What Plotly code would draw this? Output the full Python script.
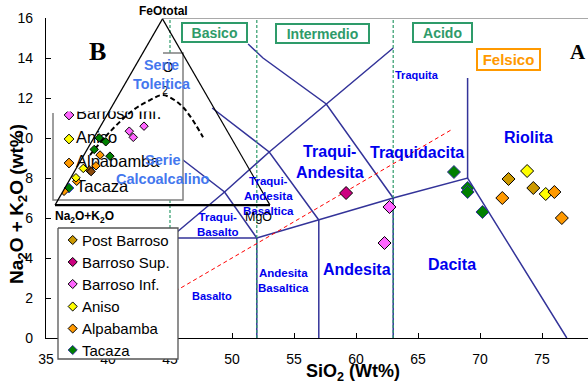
import plotly.graph_objects as go

# ---------------- TAS data: SiO2 (wt%) vs Na2O+K2O (wt%) ----------------
post_barroso_sio2 = [72.3, 74.3]
post_barroso_alk = [7.95, 7.5]
barroso_sup_sio2 = [59.2]
barroso_sup_alk = [7.25]
barroso_inf_sio2 = [62.7, 62.3]
barroso_inf_alk = [6.55, 4.75]
aniso_sio2 = [73.8, 75.3]
aniso_alk = [8.35, 7.2]
alpabamba_sio2 = [71.8, 76.0, 76.6]
alpabamba_alk = [7.0, 7.3, 6.0]
tacaza_sio2 = [67.9, 69.0, 69.0, 70.2]
tacaza_alk = [8.3, 7.5, 7.3, 6.3]

# ---------------- AFM data (FeOtotal, Na2O+K2O, MgO; sum = 100) ----------------
afm_barroso_inf_fe = [39.7, 36.4, 42.4]
afm_barroso_inf_alk = [45.6, 45.4, 37.4]
afm_barroso_inf_mg = [14.7, 18.2, 20.2]
afm_tacaza_fe = [36.1, 34.0, 29.9, 26.3]
afm_tacaza_alk = [61.4, 59.4, 66.8, 61.3]
afm_tacaza_mg = [2.5, 6.6, 3.3, 12.4]
afm_alpabamba_fe = [26.9, 21.1, 12.8, 7.4]
afm_alpabamba_alk = [65.6, 70.4, 83.5, 92.1]
afm_alpabamba_mg = [7.5, 8.5, 3.7, 0.5]
afm_post_barroso_fe = [18.8, 18.0]
afm_post_barroso_alk = [74.6, 74.2]
afm_post_barroso_mg = [6.6, 7.8]
afm_aniso_fe = [19.7, 14.7]
afm_aniso_alk = [77.0, 82.9]
afm_aniso_mg = [3.3, 2.4]

# tholeiitic / calc-alkaline divide
afm_divide_fe = [26.9, 39.4, 51.0, 56.4, 59.1, 54.2, 47.8, 36.5]
afm_divide_alk = [70.3, 54.7, 38.2, 27.6, 20.2, 14.8, 13.3, 12.9]
afm_divide_mg = [2.8, 5.9, 10.8, 16.0, 20.7, 31.0, 38.9, 50.6]

# ---------------- TAS field boundaries ----------------
tas_lines = [
    ([45, 45, 52, 57, 63, 69, 77], [0, 5, 5, 5.9, 7, 8, 0]),
    ([52, 52], [0, 5]),
    ([57, 57], [0, 5.9]),
    ([63, 63], [0, 7]),
    ([69, 69], [8, 13]),
    ([45, 49.4, 53, 57.6, 63], [5, 7.3, 9.3, 11.7, 14.5]),
    ([52, 49.4, 45], [5, 7.3, 9.4]),
    ([57, 53, 48.4], [5.9, 9.3, 11.5]),
    ([63, 57.6, 52.5, 51.3], [7, 11.7, 14, 14.7]),
]
silica_classes = [45, 52, 63]
alk_divide_sio2 = [42.0, 67.8]
alk_divide_alk = [1.1, 10.45]

names = ["Post Barroso", "Barroso Sup.", "Barroso Inf.", "Aniso", "Alpabamba", "Tacaza"]
colors = ["#CC9900", "#CC0080", "#FF66FF", "#FFFF00", "#FF9900", "#008000"]
edges = ["black", "black", "black", "black", "black", "#333399"]
tas_x = [post_barroso_sio2, barroso_sup_sio2, barroso_inf_sio2, aniso_sio2, alpabamba_sio2, tacaza_sio2]
tas_y = [post_barroso_alk, barroso_sup_alk, barroso_inf_alk, aniso_alk, alpabamba_alk, tacaza_alk]

FONT = "Arial, Liberation Sans, sans-serif"
SERIF = "Times New Roman, Liberation Serif, serif"
W, H = 588, 385
PL, PT, PB = 46, 18, 338            # plot frame in pixels
X1 = 35 + (W - PL) / 12.4            # 5 wt% per 62 px
NAVY = "#333399"
GREEN = "#2E9B6A"
BLUE = "#0000EE"
SERIE = "#4477EE"

fig = go.Figure()

# ---- classification grid ----
for xs, ys in tas_lines:
    fig.add_trace(go.Scatter(x=xs, y=ys, mode="lines", line=dict(color=NAVY, width=1.5),
                             hoverinfo="skip", showlegend=False))
gx, gy = [], []
for s in silica_classes:
    gx += [s, s, None]
    gy += [0, 16, None]
fig.add_trace(go.Scatter(x=gx, y=gy, mode="lines", line=dict(color=GREEN, width=1.2, dash="3px,2px"),
                         hoverinfo="skip", showlegend=False))
fig.add_trace(go.Scatter(x=alk_divide_sio2, y=alk_divide_alk, mode="lines",
                         line=dict(color="red", width=1, dash="4px,3px"),
                         hoverinfo="skip", showlegend=False))

# ---- samples ----
for n, c, e, xs, ys in zip(names, colors, edges, tas_x, tas_y):
    fig.add_trace(go.Scatter(x=xs, y=ys, mode="markers", name=n,
                             marker=dict(symbol="diamond", size=10, color=c, line=dict(color=e, width=1)),
                             showlegend=False))

# ---- pixel canvas overlay (x2/y2): inset frame and legends ----
def px_trace(**kw):
    kw.setdefault("hoverinfo", "skip")
    kw.setdefault("showlegend", False)
    fig.add_trace(go.Scatter(xaxis="x2", yaxis="y2", **kw))

px_trace(x=[53, 183, 183, 53, 53], y=[53, 53, 200, 200, 53], mode="lines", fill="toself",
         fillcolor="white", line=dict(width=0))
inset_names = ["Barroso Inf.", "Aniso", "Alpabamba", "Tacaza"]
inset_colors = ["#FF66FF", "#FFFF00", "#FF9900", "#008000"]
inset_edges = ["black", "black", "black", "#3333CC"]
inset_rows = [115, 139, 163, 188]
px_trace(x=[76] * 4, y=inset_rows, mode="text", text=inset_names, textposition="middle right",
         textfont=dict(family=FONT, size=16.5, color="black"))
px_trace(x=[69] * 4, y=inset_rows, mode="markers",
         marker=dict(symbol="diamond", size=7.5, color=inset_colors, line=dict(color=inset_edges, width=1)))
px_trace(x=[54, 162, 162, 54, 54], y=[95, 95, 111.5, 111.5, 95], mode="lines", fill="toself",
         fillcolor="white", line=dict(width=0))
px_trace(x=[163, 183, 183, 53, 53], y=[53, 53, 200, 200, 113], mode="lines",
         line=dict(color="#7f7f7f", width=1.5))
px_trace(x=[168, 165], y=[68, 91], mode="text", text=["O", "2"],
         textfont=dict(family=FONT, size=[14, 10], color="black"))

# main legend
px_trace(x=[58, 178, 178, 58, 58], y=[228, 228, 359, 359, 228], mode="lines", fill="toself",
         fillcolor="white", line=dict(color="#555555", width=1.3))
legend_rows = [240, 262, 284, 306.5, 328.5, 350]
px_trace(x=[72.7] * 6, y=legend_rows, mode="markers",
         marker=dict(symbol="diamond", size=7, color=colors, line=dict(color=edges, width=1)))

# ---- AFM inset (ternary) ----
fig.add_trace(go.Scatterternary(a=afm_divide_fe, b=afm_divide_alk, c=afm_divide_mg, mode="lines",
                                line=dict(color="black", width=2, dash="5px,3px", shape="spline"),
                                hoverinfo="skip", showlegend=False))
afm_sets = [
    (afm_barroso_inf_fe, afm_barroso_inf_alk, afm_barroso_inf_mg, "#FF66FF"),
    (afm_alpabamba_fe, afm_alpabamba_alk, afm_alpabamba_mg, "#FF9900"),
    (afm_post_barroso_fe, afm_post_barroso_alk, afm_post_barroso_mg, "#8B4A0B"),
    (afm_aniso_fe, afm_aniso_alk, afm_aniso_mg, "#FFFF00"),
    (afm_tacaza_fe, afm_tacaza_alk, afm_tacaza_mg, "#008000"),
]
for fe, alk, mg, c in afm_sets:
    fig.add_trace(go.Scatterternary(a=fe, b=alk, c=mg, mode="markers",
                                    marker=dict(symbol="diamond", size=6.5, color=c,
                                                line=dict(color="black", width=1)),
                                    hoverinfo="skip", showlegend=False))

# ---- text ----
ann = []


def label(x, y, text, size, color=BLUE, bold=True, family=FONT, **kw):
    t = f"<b>{text}</b>" if bold else text
    ann.append(dict(x=x, y=y, xref="x2", yref="y2", text=t, showarrow=False,
                    font=dict(family=family, size=size, color=color), **kw))


label(417, 75, "Traquita", 11)
label(528, 137, "Riolita", 16)
label(330, 162, "Traqui-<br>Andesita", 16)
label(417, 152, "Traquidacita", 16)
label(452, 264, "Dacita", 16)
label(357, 269, "Andesita", 16)
label(283, 280, "Andesita<br>Basaltica", 11.5)
label(212, 296, "Basalto", 11)
label(218, 224, "Traqui-<br>Basalto", 11.5)
label(268, 196, "Traqui-<br>Andesita<br>Basaltica", 11.5)

for cx, cy, txt, w in [(214.5, 32.5, "Basico", 63), (322.5, 33.5, "Intermedio", 91), (442.5, 32.5, "Acido", 57)]:
    label(cx, cy, txt, 14, color=GREEN, width=w, height=17, bordercolor=GREEN, borderwidth=2,
          borderpad=0, bgcolor="white")
label(508.5, 59.5, "Felsico", 15, color="#FF9900", width=61, height=19, bordercolor="#FF9900",
      borderwidth=2, borderpad=0, bgcolor="white")

label(578, 52, "A", 21, color="black", family=SERIF)
label(97, 51, "B", 26, color="black", family=SERIF)

label(162, 74, "Serie<br>Toleitica", 14.3, color=SERIE)
label(162.5, 169, "Serie<br>Calcoalcalino", 14.5, color=SERIE)
label(163.5, 11, "FeOtotal", 12, color="black")
label(84, 217, "Na<sub>2</sub>O+K<sub>2</sub>O", 12, color="black")
label(258, 217, "MgO", 12.5, color="black", bold=False)

for n, y in zip(names, legend_rows):
    label(80, y, n, 15, color="black", bold=False, xanchor="left")

label(353, 372, "SiO<sub>2</sub> (Wt%)", 18, color="black")
label(18, 204, "Na<sub>2</sub>O + K<sub>2</sub>O (wt%)", 19, color="black", textangle=-90)

tern_ax = dict(showticklabels=False, ticks="", showgrid=False, linecolor="black", linewidth=1.2,
               title=dict(text=""), min=0)
fig.update_layout(
    width=W, height=H, margin=dict(l=0, r=0, t=0, b=0, autoexpand=False),
    paper_bgcolor="white", plot_bgcolor="rgba(0,0,0,0)", showlegend=False, hovermode=False,
    font=dict(family=FONT, color="black"),
    xaxis=dict(domain=[PL / W, 1], range=[35, X1], tick0=35, dtick=5, ticks="inside", ticklen=5,
               tickcolor="black", showline=True, linecolor="black", linewidth=1.3, showgrid=False,
               zeroline=False, tickfont=dict(size=14, color="black"), ticklabelstandoff=8,
               anchor="y"),
    yaxis=dict(domain=[(H - PB) / H, (H - PT) / H], range=[0, 16], tick0=0, dtick=2, ticks="inside",
               ticklen=5, tickcolor="black", showline=True, linecolor="black", linewidth=1.3,
               showgrid=False, zeroline=False, tickfont=dict(size=14, color="black"),
               ticklabelstandoff=9, anchor="x"),
    xaxis2=dict(domain=[0, 1], range=[0, W], visible=False, anchor="y2", fixedrange=True),
    yaxis2=dict(domain=[0, 1], range=[H, 0], visible=False, anchor="x2", fixedrange=True),
    ternary=dict(domain=dict(x=[55 / W, 270 / W], y=[(H - 206) / H, (H - 18) / H]), sum=100,
                 bgcolor="rgba(0,0,0,0)",
                 aaxis=tern_ax, baxis=dict(tern_ax, linewidth=2.2), caxis=tern_ax),
    annotations=ann,
    shapes=[dict(type="line", xref="x", yref="y", x0=44.4, x1=X1, y0=16, y1=16,
                 line=dict(color="#555555", width=1), layer="below")],
)

fig.write_html("out.html")
